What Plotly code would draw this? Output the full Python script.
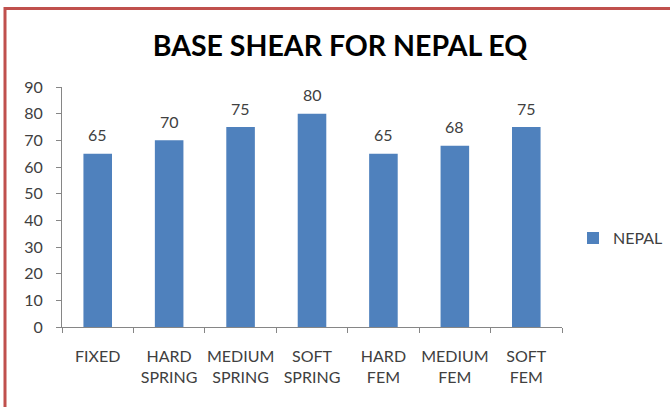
import plotly.graph_objects as go

categories = ["FIXED", "HARD SPRING", "MEDIUM SPRING", "SOFT SPRING", "HARD FEM", "MEDIUM FEM", "SOFT FEM"]
tick_labels = ["FIXED", "HARD<br>SPRING", "MEDIUM<br>SPRING", "SOFT<br>SPRING", "HARD<br>FEM", "MEDIUM<br>FEM", "SOFT<br>FEM"]
nepal = [65, 70, 75, 80, 65, 68, 75]
y_ticks = [0, 10, 20, 30, 40, 50, 60, 70, 80, 90]

FONT = "Lato, 'Open Sans', Arial, sans-serif"
TXT = "#404040"

fig = go.Figure()
fig.add_trace(go.Bar(
    x=categories, y=nepal, name="NEPAL",
    marker=dict(color="#4F81BD", line=dict(width=0)),
))

annotations = [
    dict(x=c, y=v, xref="x", yref="y", text=str(v), showarrow=False,
         yanchor="middle", yshift=19, font=dict(family=FONT, size=16, color=TXT))
    for c, v in zip(categories, nepal)
]

fig.update_layout(
    width=670, height=407,
    margin=dict(l=62, r=108, t=87, b=80, autoexpand=False),
    paper_bgcolor="white", plot_bgcolor="white",
    bargap=0.6,
    title=dict(text="<b>BASE SHEAR FOR NEPAL EQ</b>", x=340 / 670, xref="container", xanchor="center",
               y=1 - 46 / 407, yref="container", yanchor="middle",
               font=dict(family=FONT, size=28.5, color="black")),
    showlegend=True,
    legend=dict(x=1.022, y=0.37, xanchor="left", yanchor="middle",
                font=dict(family=FONT, size=16, color=TXT), bgcolor="rgba(0,0,0,0)"),
    annotations=annotations,
    shapes=[dict(type="rect", xref="paper", yref="paper",
                 x0=(5 - 62) / 500, x1=1.4, y0=-0.6, y1=(327 - 8.5) / 240,
                 line=dict(color="#C0504D", width=3), fillcolor="rgba(0,0,0,0)", layer="above")],
)

fig.update_xaxes(
    type="category", categoryorder="array", categoryarray=categories,
    tickvals=categories, ticktext=tick_labels, tickangle=0, automargin=False,
    showline=True, linecolor="#868686", linewidth=1,
    ticks="outside", tickson="boundaries", ticklen=5, tickcolor="#868686",
    showgrid=False, ticklabelstandoff=15,
    tickfont=dict(family=FONT, size=16, color=TXT),
)
fig.update_yaxes(
    range=[0, 90], tickvals=y_ticks, automargin=False,
    showline=True, linecolor="#868686", linewidth=1,
    ticks="outside", ticklen=5, tickcolor="#868686",
    showgrid=False, zeroline=False, ticklabelstandoff=10,
    tickfont=dict(family=FONT, size=16, color=TXT),
)

fig.write_html("out.html", config={"displayModeBar": False},
               post_script="document.body.style.margin='0';document.body.style.overflow='hidden';")
